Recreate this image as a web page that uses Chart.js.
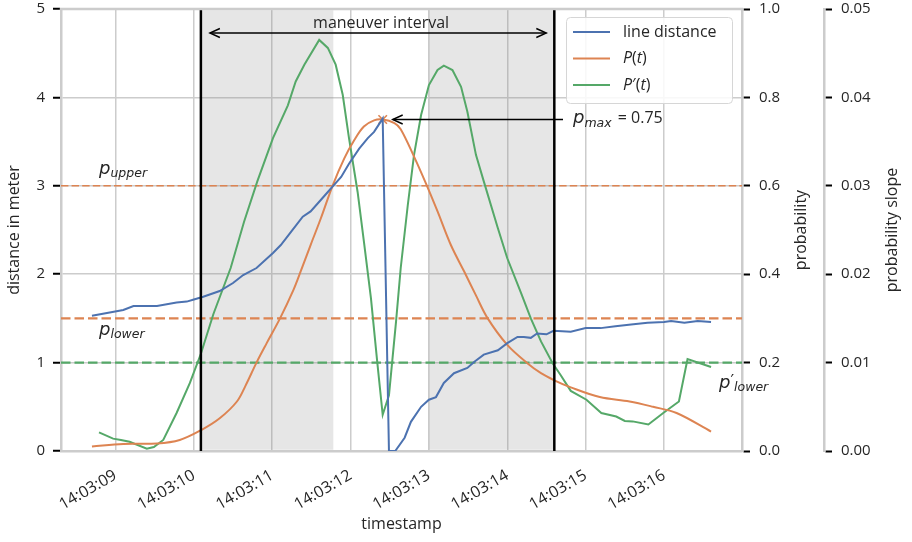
<!DOCTYPE html>
<html><head><meta charset="utf-8">
<script src="https://cdn.jsdelivr.net/npm/chart.js@4.4.1/dist/chart.umd.min.js"></script>
<style>html,body{margin:0;padding:0;background:#fff}#wrap{width:912px;height:542px}</style>
</head><body><div id="wrap"><canvas id="c" width="912" height="542"></canvas></div>
<script>
// ---------- data ----------
const xTickSeconds = [9, 10, 11, 12, 13, 14, 15, 16];
const xTickLabels = ['14:03:09','14:03:10','14:03:11','14:03:12','14:03:13','14:03:14','14:03:15','14:03:16'];
const distanceTicks = [0, 1, 2, 3, 4, 5];
const distanceTickLabels = ['0','1','2','3','4','5'];
const probTicks = [0, 0.2, 0.4, 0.6, 0.8, 1.0];
const probTickLabels = ['0.0','0.2','0.4','0.6','0.8','1.0'];
const slopeTicks = [0, 0.01, 0.02, 0.03, 0.04, 0.05];
const slopeTickLabels = ['0.00','0.01','0.02','0.03','0.04','0.05'];

const distTimes = [8.70, 9.10, 9.23, 9.53, 9.78, 9.91, 9.99, 10.12, 10.33, 10.50, 10.63, 10.80, 11.01, 11.11, 11.24, 11.39, 11.49, 11.60, 11.71, 11.77, 11.88, 11.98, 12.11, 12.22, 12.30, 12.41, 12.49, 12.57, 12.69, 12.77, 12.90, 13.00, 13.09, 13.19, 13.32, 13.49, 13.58, 13.70, 13.88, 14.00, 14.13, 14.21, 14.30, 14.38, 14.50, 14.59, 14.81, 15.00, 15.19, 15.38, 15.58, 15.79, 16.00, 16.09, 16.26, 16.43, 16.60];
const distValues = [1.53, 1.595, 1.64, 1.64, 1.68, 1.69, 1.71, 1.745, 1.81, 1.90, 1.99, 2.07, 2.24, 2.33, 2.48, 2.65, 2.71, 2.82, 2.93, 2.99, 3.10, 3.25, 3.42, 3.54, 3.61, 3.76, 0.0, 0.0, 0.15, 0.33, 0.50, 0.58, 0.61, 0.77, 0.88, 0.94, 1.01, 1.09, 1.14, 1.22, 1.29, 1.29, 1.28, 1.33, 1.32, 1.36, 1.35, 1.39, 1.39, 1.41, 1.43, 1.45, 1.46, 1.47, 1.45, 1.47, 1.46];

const probTimes = [8.70, 9.10, 9.53, 9.82, 10.10, 10.33, 10.55, 10.66, 10.80, 10.93, 11.10, 11.27, 11.35, 11.49, 11.62, 11.77, 11.92, 12.05, 12.17, 12.30, 12.41, 12.56, 12.64, 12.81, 12.96, 13.11, 13.28, 13.45, 13.60, 13.75, 14.00, 14.26, 14.43, 14.60, 14.81, 15.18, 15.56, 15.86, 16.16, 16.60];
const probValues = [0.010, 0.016, 0.017, 0.025, 0.048, 0.074, 0.112, 0.148, 0.200, 0.244, 0.300, 0.364, 0.400, 0.466, 0.526, 0.600, 0.662, 0.704, 0.734, 0.748, 0.750, 0.742, 0.728, 0.666, 0.606, 0.542, 0.466, 0.406, 0.352, 0.300, 0.240, 0.198, 0.176, 0.160, 0.144, 0.122, 0.112, 0.100, 0.086, 0.044];

const slopeTimes = [8.79, 8.97, 9.07, 9.18, 9.40, 9.49, 9.61, 9.78, 9.95, 10.09, 10.25, 10.47, 10.64, 10.81, 11.01, 11.20, 11.30, 11.41, 11.60, 11.71, 11.81, 11.90, 11.98, 12.09, 12.17, 12.26, 12.34, 12.41, 12.49, 12.58, 12.64, 12.73, 12.81, 12.90, 13.00, 13.11, 13.19, 13.30, 13.41, 13.49, 13.60, 13.70, 13.88, 14.00, 14.17, 14.30, 14.43, 14.58, 14.68, 14.81, 15.01, 15.20, 15.39, 15.50, 15.60, 15.80, 15.99, 16.19, 16.30, 16.60];
const slopeValues = [0.0021, 0.0014, 0.00125, 0.00105, 0.00025, 0.00045, 0.00125, 0.0043, 0.0077, 0.0110, 0.0155, 0.0207, 0.0259, 0.0305, 0.0354, 0.0391, 0.0418, 0.0437, 0.0465, 0.0456, 0.0437, 0.0403, 0.0354, 0.0293, 0.0237, 0.0173, 0.0101, 0.0041, 0.0063, 0.0146, 0.0207, 0.0278, 0.0335, 0.0380, 0.0414, 0.0431, 0.0436, 0.0431, 0.0412, 0.0384, 0.0335, 0.0305, 0.0252, 0.0218, 0.0180, 0.0150, 0.0124, 0.0099, 0.0086, 0.0068, 0.0058, 0.0043, 0.0039, 0.0034, 0.00335, 0.0030, 0.0043, 0.0056, 0.0104, 0.0095];

const maneuverStart = 10.09, maneuverEnd = 14.60;
const shadeStarts = [10.09, 13.00];
const shadeEnds = [11.78, 14.60];
const pUpper = 0.6, pLower = 0.3, pPrimeLower = 0.01;
const pmaxTime = 12.41, pmaxValue = 0.75;
const xMin = 8.305, xMax = 16.995;

// ---------- style ----------
const FONT = "'Open Sans', 'DejaVu Sans', sans-serif";
const MATH = "'DejaVu Sans', sans-serif";
const TEXT = '#262626';
const GRID = '#cccccc';
const BLUE = '#4c72b0', ORANGE = '#dd8452', GREEN = '#55a868';

const pts = (ts, vs) => ts.map((t, i) => ({x: t, y: vs[i]}));

function rich(ctx, x, y, parts) {
  let cx = x;
  parts.forEach(([t, size, family, italic, dy]) => {
    ctx.font = (italic ? 'italic ' : '') + size + 'px ' + family;
    ctx.fillText(t, cx, y + (dy || 0));
    cx += ctx.measureText(t).width;
  });
  return cx;
}
function arrowHead(ctx, x, y, dir) {
  ctx.beginPath();
  ctx.moveTo(x - dir * 10, y - 4.5);
  ctx.lineTo(x, y);
  ctx.lineTo(x - dir * 10, y + 4.5);
  ctx.stroke();
}

const decor = {
  id: 'decor',
  beforeDatasetsDraw(chart) {
    const {ctx, chartArea: a, scales: {x, y1, y2}} = chart;
    ctx.save();
    ctx.beginPath(); ctx.rect(a.left, a.top + 1.3, a.width, a.height - 2.6); ctx.clip();
    ctx.fillStyle = 'rgba(128,128,128,0.2)';
    shadeStarts.forEach((s, i) => {
      const l = x.getPixelForValue(s), r = x.getPixelForValue(shadeEnds[i]);
      ctx.fillRect(l, a.top, r - l, a.height);
    });
    ctx.restore();
    ctx.save();
    const hline = (yy, color, lw, dash) => {
      ctx.strokeStyle = color; ctx.lineWidth = lw; ctx.setLineDash(dash);
      ctx.beginPath(); ctx.moveTo(a.left, yy); ctx.lineTo(a.right, yy); ctx.stroke();
    };
    hline(y1.getPixelForValue(pUpper), ORANGE, 1.6, [7.4, 3.2]);
    hline(y1.getPixelForValue(pLower), ORANGE, 2.4, [9.5, 4]);
    hline(y2.getPixelForValue(pPrimeLower), GREEN, 2.4, [9.5, 4]);
    ctx.restore();
  },
  afterDatasetsDraw(chart) {
    const {ctx, chartArea: a, scales: {x, y1}} = chart;
    ctx.save();
    ctx.strokeStyle = '#000'; ctx.lineWidth = 2.5;
    [maneuverStart, maneuverEnd].forEach(t => {
      const xx = x.getPixelForValue(t);
      ctx.beginPath(); ctx.moveTo(xx, a.top); ctx.lineTo(xx, a.bottom); ctx.stroke();
    });
    // maneuver interval arrow
    const xs = x.getPixelForValue(maneuverStart) + 9, xe = x.getPixelForValue(maneuverEnd) - 8;
    const ay = a.top + 24;
    ctx.lineWidth = 1.4;
    ctx.beginPath(); ctx.moveTo(xs, ay); ctx.lineTo(xe, ay); ctx.stroke();
    arrowHead(ctx, xs, ay, -1); arrowHead(ctx, xe, ay, 1);
    ctx.fillStyle = TEXT; ctx.textBaseline = 'alphabetic'; ctx.textAlign = 'center';
    ctx.font = '16px ' + FONT;
    ctx.fillText('maneuver interval', (xs + xe) / 2 + 3, a.top + 19);
    // pmax arrow
    const px0 = x.getPixelForValue(pmaxTime) + 10, py = y1.getPixelForValue(pmaxValue);
    ctx.beginPath(); ctx.moveTo(563, py); ctx.lineTo(px0, py); ctx.stroke();
    arrowHead(ctx, px0, py, -1);
    ctx.textAlign = 'left';
    const e = rich(ctx, 573, py + 3, [['p', 18, MATH, true, 0], ['max', 12.5, MATH, true, 4]]);
    ctx.font = '16px ' + FONT; ctx.fillText(' = 0.75', e + 2, py + 3.5);
    // threshold labels
    const yu = y1.getPixelForValue(pUpper), yl = y1.getPixelForValue(pLower);
    rich(ctx, 99, yu - 12, [['p', 18, MATH, true, 0], ['upper', 12.5, MATH, true, 3]]);
    rich(ctx, 99, yl + 17, [['p', 18, MATH, true, 0], ['lower', 12.5, MATH, true, 3]]);
    rich(ctx, 719, yl + 70, [['p', 18, MATH, true, 0], ['\u2032', 16, MATH, false, -2], ['lower', 12.5, MATH, true, 3]]);
    ctx.restore();
  },
  afterDraw(chart) {
    const {ctx, chartArea: a} = chart;
    ctx.save();
    ctx.strokeStyle = GRID; ctx.lineWidth = 2.5;
    ctx.beginPath(); ctx.moveTo(a.left - 1.2, a.top); ctx.lineTo(a.right + 1.2, a.top); ctx.stroke();
    // right axis titles
    ctx.fillStyle = TEXT; ctx.font = '16px ' + FONT; ctx.textAlign = 'center'; ctx.textBaseline = 'middle';
    const cy = (a.top + a.bottom) / 2;
    [['probability', 801], ['probability slope', 892]].forEach(([t, cx]) => {
      ctx.save(); ctx.translate(cx, cy); ctx.rotate(-Math.PI / 2); ctx.fillText(t, 0, 0); ctx.restore();
    });
    // legend
    const lx = 566, ly = 17, lw = 166, lh = 86;
    ctx.fillStyle = 'rgba(255,255,255,0.85)'; ctx.strokeStyle = '#d6d6d6'; ctx.lineWidth = 1;
    ctx.beginPath(); ctx.roundRect(lx + 0.5, ly + 0.5, lw, lh, 4); ctx.fill(); ctx.stroke();
    const rows = [
      [BLUE, [['line distance', 16, FONT, false]]],
      [ORANGE, [['P', 16, FONT, true], ['(', 16, FONT, false], ['t', 16, FONT, true], [')', 16, FONT, false]]],
      [GREEN, [['P', 16, FONT, true], ['\u2032', 16, FONT, false], ['(', 16, FONT, false], ['t', 16, FONT, true], [')', 16, FONT, false]]]
    ];
    ctx.textAlign = 'left'; ctx.textBaseline = 'middle';
    rows.forEach(([c, parts], i) => {
      const yy = 32 + i * 26.5;
      ctx.strokeStyle = c; ctx.lineWidth = 2;
      ctx.beginPath(); ctx.moveTo(573, yy); ctx.lineTo(610, yy); ctx.stroke();
      ctx.fillStyle = TEXT;
      rich(ctx, 623, yy, parts);
    });
    ctx.restore();
  }
};

const tickFont = {family: FONT, size: 15};
const setTicks = (vals) => (s) => { s.ticks = vals.map(v => ({value: v})); };
const fixBox = (w, h) => (s) => {
  if (w) s.width = w;
  if (h) s.height = h;
  s.paddingTop = 0; s.paddingBottom = 0; s.paddingLeft = 0; s.paddingRight = 0;
};

new Chart(document.getElementById('c'), {
  type: 'line',
  data: {
    datasets: [
      {label: 'line distance', data: pts(distTimes, distValues), yAxisID: 'y', borderColor: BLUE, borderWidth: 2, pointRadius: 0, tension: 0, fill: false},
      {label: 'P(t)', data: pts(probTimes, probValues), yAxisID: 'y1', borderColor: ORANGE, borderWidth: 2, pointRadius: 0, tension: 0.35, fill: false},
      {label: "P'(t)", data: pts(slopeTimes, slopeValues), yAxisID: 'y2', borderColor: GREEN, borderWidth: 2, pointRadius: 0, tension: 0, fill: false},
      {label: 'pmax', data: [{x: pmaxTime, y: pmaxValue}], yAxisID: 'y1', showLine: false, pointStyle: 'crossRot', pointRadius: 6, borderColor: ORANGE, backgroundColor: ORANGE, borderWidth: 1.6}
    ]
  },
  options: {
    responsive: false, animation: false, devicePixelRatio: 1,
    layout: {padding: {top: 9, left: 0, right: 0, bottom: 0}},
    plugins: {legend: {display: false}, tooltip: {enabled: false}},
    scales: {
      x: {
        type: 'linear', position: 'bottom', min: xMin, max: xMax,
        afterBuildTicks: setTicks(xTickSeconds),
        afterFit: fixBox(0, 91),
        ticks: {callback: (v, i) => xTickLabels[i], maxRotation: 30, minRotation: 30, autoSkip: false, padding: 15, color: TEXT, font: {family: FONT, size: 16}},
        grid: {color: GRID, lineWidth: 1.5, drawTicks: false},
        border: {color: GRID, width: 2.5},
        title: {display: true, text: 'timestamp', color: TEXT, font: {family: FONT, size: 16}, padding: {top: 0, bottom: 8}}
      },
      y: {
        type: 'linear', position: 'left', min: 0, max: 5,
        afterBuildTicks: setTicks(distanceTicks),
        afterFit: fixBox(61, 0),
        ticks: {callback: (v, i) => distanceTickLabels[i], padding: 8, color: TEXT, font: tickFont},
        grid: {color: GRID, lineWidth: 1.5, tickColor: '#000', tickLength: 8, tickWidth: 2},
        border: {color: GRID, width: 2.5},
        title: {display: true, text: 'distance in meter', color: TEXT, font: {family: FONT, size: 16}, padding: {top: 5, bottom: 5}}
      },
      y1: {
        type: 'linear', position: 'right', min: 0, max: 1,
        afterBuildTicks: setTicks(probTicks),
        afterFit: fixBox(82, 0),
        ticks: {callback: (v, i) => probTickLabels[i], padding: 9, color: TEXT, font: tickFont},
        grid: {drawOnChartArea: false, tickColor: '#000', tickLength: 8, tickWidth: 2},
        border: {color: GRID, width: 2.5}
      },
      y2: {
        type: 'linear', position: 'right', min: 0, max: 0.05,
        afterBuildTicks: setTicks(slopeTicks),
        afterFit: fixBox(88, 0),
        ticks: {callback: (v, i) => slopeTickLabels[i], padding: 9, color: TEXT, font: tickFont},
        grid: {drawOnChartArea: false, tickColor: '#000', tickLength: 8, tickWidth: 2},
        border: {color: GRID, width: 2.5}
      }
    }
  },
  plugins: [decor]
});
</script></body></html>
